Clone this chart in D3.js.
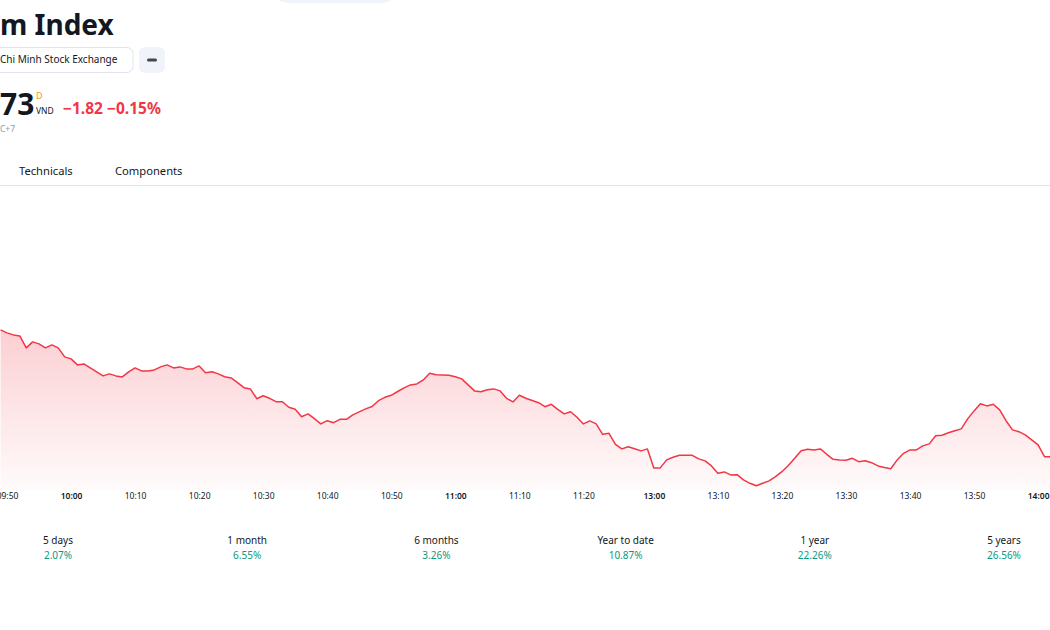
<!DOCTYPE html>
<html>
<head>
<meta charset="utf-8">
<script src="https://cdn.jsdelivr.net/npm/d3@7"></script>
<style>
  body { margin: 0; background: #fff; }
  svg { display: block; font-family: "Noto Sans", sans-serif; }
</style>
</head>
<body>
<svg width="1050" height="630"></svg>
<script>
// intraday sessions (first and last minute shown)
const sessions = [['09:49', '11:30'], ['13:00', '14:02']];

// index level, one value per minute
const prices = [
  1218.07, 1217.92, 1217.82, 1217.77, 1217.17, 1217.47, 1217.37, 1217.17, 1217.32, 1217.17,
  1216.72, 1216.62, 1216.32, 1216.37, 1216.17, 1215.97, 1215.77, 1215.87, 1215.77, 1215.72,
  1215.97, 1216.17, 1216.02, 1216.02, 1216.07, 1216.22, 1216.32, 1216.17, 1216.22, 1216.12,
  1216.12, 1216.27, 1215.93, 1215.98, 1215.87, 1215.73, 1215.67, 1215.43, 1215.18, 1215.12,
  1214.63, 1214.78, 1214.65, 1214.48, 1214.48, 1214.20, 1214.10, 1213.73, 1213.87, 1213.63,
  1213.37, 1213.53, 1213.43, 1213.60, 1213.60, 1213.82, 1213.97, 1214.12, 1214.24, 1214.53,
  1214.70, 1214.80, 1214.99, 1215.17, 1215.32, 1215.37, 1215.57, 1215.90, 1215.83, 1215.82,
  1215.80, 1215.73, 1215.62, 1215.32, 1215.02, 1214.98, 1215.08, 1215.12, 1215.02, 1214.65,
  1214.47, 1214.80, 1214.65, 1214.54, 1214.43, 1214.23, 1214.35, 1214.10, 1213.87, 1213.98,
  1213.70, 1213.37, 1213.52, 1213.37, 1212.85, 1212.90, 1212.35, 1212.12, 1212.23, 1212.13,
  1212.02, 1212.12,
  1211.17, 1211.17, 1211.57, 1211.70, 1211.80, 1211.80, 1211.80, 1211.62, 1211.52, 1211.27,
  1210.90, 1210.97, 1210.82, 1210.83, 1210.57, 1210.40, 1210.28, 1210.40, 1210.52, 1210.73,
  1210.98, 1211.29, 1211.65, 1212.03, 1212.10, 1212.07, 1212.12, 1211.85, 1211.60, 1211.57,
  1211.55, 1211.65, 1211.48, 1211.53, 1211.43, 1211.27, 1211.19, 1211.13, 1211.57, 1211.90,
  1212.07, 1212.07, 1212.27, 1212.37, 1212.78, 1212.80, 1212.93, 1213.03, 1213.12, 1213.62,
  1214.02, 1214.38, 1214.27, 1214.35, 1214.07, 1213.53, 1213.07, 1212.98, 1212.82, 1212.57,
  1212.32, 1211.73, 1211.73
];

const tickLabels = ['09:50', '10:00', '10:10', '10:20', '10:30', '10:40', '10:50', '11:00',
  '11:10', '11:20', '13:00', '13:10', '13:20', '13:30', '13:40', '13:50', '14:00'];

const periods = ['5 days', '1 month', '6 months', 'Year to date', '1 year', '5 years'];
const periodChanges = ['2.07%', '6.55%', '3.26%', '10.87%', '22.26%', '26.56%'];

const svg = d3.select('svg');
const width = +svg.attr('width');

// minute labels for every session
const toMin = s => +s.slice(0, 2) * 60 + +s.slice(3);
const fmt = m => String(Math.floor(m / 60)).padStart(2, '0') + ':' + String(m % 60).padStart(2, '0');
const times = [];
sessions.forEach(([a, b]) => { for (let m = toMin(a); m <= toMin(b); m++) times.push(fmt(m)); });
const data = times.map((t, i) => ({ time: t, value: prices[i] }));

// ---- header ----
svg.append('rect').attr('x', 272).attr('y', -30).attr('width', 126).attr('height', 33)
  .attr('rx', 16).attr('fill', '#f0f3fa');

svg.append('text').attr('x', 0).attr('y', 35).text('m Index')
  .attr('font-size', 28).attr('font-weight', 700).attr('fill', '#131722');

svg.append('rect').attr('x', -10).attr('y', 47.5).attr('width', 143).attr('height', 25)
  .attr('rx', 6).attr('fill', '#fff').attr('stroke', '#e0e3eb');
svg.append('text').attr('x', 0).attr('y', 63).text('Chi Minh Stock Exchange')
  .attr('font-size', 10).attr('fill', '#131722');

svg.append('rect').attr('x', 139).attr('y', 47).attr('width', 26).attr('height', 26)
  .attr('rx', 6).attr('fill', '#f0f3fa');
svg.append('rect').attr('x', 147).attr('y', 58.5).attr('width', 10).attr('height', 3)
  .attr('rx', 1.5).attr('fill', '#434651');

svg.append('text').attr('x', 0).attr('y', 115).text('73')
  .attr('font-size', 30).attr('font-weight', 700).attr('fill', '#131722');
svg.append('text').attr('x', 36).attr('y', 99).text('D')
  .attr('font-size', 9).attr('fill', '#ff9800');
svg.append('text').attr('x', 36).attr('y', 114).text('VND')
  .attr('font-size', 8.5).attr('fill', '#131722');
svg.append('text').attr('x', 63).attr('y', 114).text('\u22121.82 \u22120.15%')
  .attr('font-size', 15.5).attr('font-weight', 700).attr('fill', '#f23645');
svg.append('text').attr('x', 0).attr('y', 132).text('C+7')
  .attr('font-size', 8.5).attr('fill', '#9598a1');

svg.append('text').attr('x', 19).attr('y', 175).text('Technicals')
  .attr('font-size', 11.2).attr('fill', '#131722');
svg.append('text').attr('x', 115).attr('y', 175).text('Components')
  .attr('font-size', 11.2).attr('fill', '#131722');
svg.append('line').attr('x1', 0).attr('x2', width).attr('y1', 185.5).attr('y2', 185.5)
  .attr('stroke', '#e0e3eb');

// ---- chart ----
const plotBottom = 490;
const xScale = d3.scalePoint().domain(times).range([0.6, 1050.9]);
const yScale = d3.scaleLinear().domain([1210, 1225]).range([491.3, 191.3]);

const defs = svg.append('defs');
const grad = defs.append('linearGradient').attr('id', 'fill')
  .attr('gradientUnits', 'userSpaceOnUse')
  .attr('x1', 0).attr('x2', 0).attr('y1', yScale(d3.max(prices))).attr('y2', plotBottom);
grad.append('stop').attr('offset', 0).attr('stop-color', '#f23645').attr('stop-opacity', 0.24);
grad.append('stop').attr('offset', 1).attr('stop-color', '#f23645').attr('stop-opacity', 0.02);

const area = d3.area()
  .x(d => xScale(d.time))
  .y0(plotBottom)
  .y1(d => yScale(d.value));
const line = d3.line()
  .x(d => xScale(d.time))
  .y(d => yScale(d.value));

svg.append('path').datum(data).attr('d', area).attr('fill', 'url(#fill)');
svg.append('path').datum(data).attr('d', line)
  .attr('fill', 'none').attr('stroke', '#f23645').attr('stroke-width', 1.5)
  .attr('stroke-linejoin', 'round');

const xAxis = svg.append('g')
  .attr('transform', `translate(0,${plotBottom})`)
  .call(d3.axisBottom(xScale).tickValues(tickLabels).tickSize(0).tickPadding(3));
xAxis.select('.domain').remove();
xAxis.selectAll('text')
  .attr('font-family', '"Noto Sans", sans-serif')
  .attr('font-size', 8.5)
  .attr('fill', '#131722')
  .attr('font-weight', d => d.endsWith(':00') ? 600 : 400);

// ---- performance row ----
const perfX = d3.scalePoint().domain(periods).range([58, 1004]);
const perf = svg.append('g').selectAll('g').data(periods).enter().append('g')
  .attr('transform', d => `translate(${perfX(d)},0)`);
perf.append('text').attr('y', 544).attr('text-anchor', 'middle').text(d => d)
  .attr('font-size', 10).attr('fill', '#131722');
perf.append('text').attr('y', 559).attr('text-anchor', 'middle')
  .text((d, i) => periodChanges[i])
  .attr('font-size', 10).attr('fill', '#089981');
</script>
</body>
</html>
